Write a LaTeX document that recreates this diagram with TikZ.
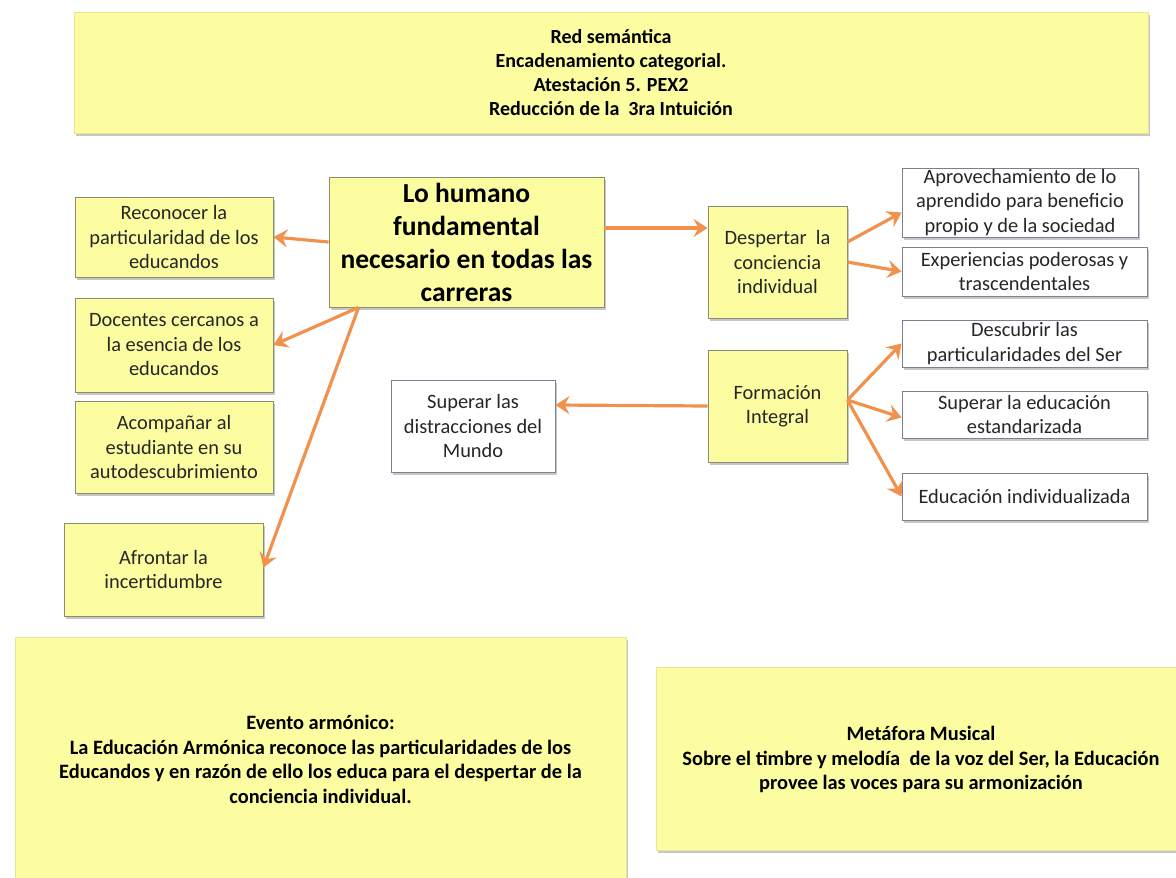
\documentclass[tikz,border=0pt]{standalone}
\usepackage{fontspec}
\setmainfont{Carlito}
\usetikzlibrary{arrows.meta,shadows}
\definecolor{boxyellow}{RGB}{252,252,160}
\definecolor{boxedge}{RGB}{140,140,115}
\definecolor{wedge}{RGB}{125,125,150}
\definecolor{arrorange}{RGB}{240,146,78}
\definecolor{txt}{RGB}{38,38,38}
\tikzset{
  shad/.style={drop shadow={shadow xshift=1pt,shadow yshift=-1.5pt,opacity=0.4,fill=black!55}},
  ybox/.style={shad,fill=boxyellow,draw=boxedge,line width=0.45pt,inner sep=0pt,align=center,text=txt,
    font=\fontsize{10.2pt}{12.25pt}\selectfont},
  wbox/.style={shad,fill=white,draw=wedge,line width=0.45pt,inner sep=0pt,align=center,text=txt,
    font=\fontsize{10.2pt}{12.25pt}\selectfont},
  bigbox/.style={shad,fill=boxyellow,draw=boxyellow!92!black,line width=0.3pt,inner sep=0pt},
  btext/.style={align=center,text=black,font=\bfseries\fontsize{10.2pt}{12.25pt}\selectfont},
  arr/.style={draw=arrorange,line width=1.6pt,-{Stealth[length=7pt,width=9pt,inset=2.5pt]}},
}
\begin{document}
\begin{tikzpicture}[x=0.5pt,y=-0.5pt]
\useasboundingbox[fill=white] (0,0) rectangle (1176,877);
% title box
\node[bigbox,minimum width=537pt,minimum height=60.5pt,align=center,
  font=\bfseries\fontsize{10pt}{12pt}\selectfont] (top) at (611,72.5)
  {Red semántica\\Encadenamiento categorial.\\Atestación 5. PEX2\\Reducción de la~ 3ra Intuición};
% central
\node[ybox,minimum width=137.5pt,minimum height=65pt,text=black,
  font=\bfseries\fontsize{13.75pt}{16.5pt}\selectfont] (cen) at (466.5,242)
  {Lo humano\\fundamental\\necesario en todas las\\carreras};
% left column
\node[ybox,minimum width=99pt,minimum height=40pt] (rec) at (174,237)
  {Reconocer la\\particularidad de los\\educandos};
\node[ybox,minimum width=99pt,minimum height=47pt] (doc) at (174,345)
  {Docentes cercanos a\\la esencia de los\\educandos};
\node[ybox,minimum width=99pt,minimum height=46pt] (aco) at (174,447)
  {Acompañar al\\estudiante en su\\autodescubrimiento};
\node[ybox,minimum width=99.5pt,minimum height=46.5pt] (afr) at (163.5,569.5)
  {Afrontar la\\incertidumbre};
\node[wbox,minimum width=82pt,minimum height=46pt] (sup) at (473,426)
  {Superar las\\distracciones del\\Mundo};
% middle right
\node[ybox,minimum width=69.5pt,minimum height=56pt] (desp) at (777.5,262)
  {Despertar~ la\\conciencia\\individual};
\node[ybox,minimum width=69.5pt,minimum height=56pt] (form) at (777.5,406)
  {Formación\\Integral};
% right column
\node[wbox,minimum width=118pt,minimum height=34.5pt] (aprov) at (1020,202.5)
  {Aprovechamiento de lo\\aprendido para beneficio\\propio y de la sociedad};
\node[wbox,minimum width=122.5pt,minimum height=24.5pt] (exp) at (1024.5,271.5)
  {Experiencias poderosas y\\trascendentales};
\node[wbox,minimum width=122.5pt,minimum height=23.5pt] (desc) at (1024.5,343.5)
  {Descubrir las\\particularidades del Ser};
\node[wbox,minimum width=122.5pt,minimum height=23.5pt] (sedu) at (1024.5,414.5)
  {Superar la educación\\estandarizada};
\node[wbox,minimum width=122.5pt,minimum height=23.5pt] (eind) at (1024.5,496.5)
  {Educación individualizada};
% bottom boxes
\node[bigbox,minimum width=305.5pt,minimum height=131.5pt] (evt) at (320.5,768.5) {};
\node[btext] (evtT) at (320.5,759.5)
  {Evento armónico:\\La Educación Armónica reconoce las particularidades de los\\Educandos y en razón de ello los educa para el despertar de la\\conciencia individual.};
\node[bigbox,minimum width=269.5pt,minimum height=91.5pt] (met) at (925.5,758.5) {};
\node[btext] (metT) at (921,759.5)
  {Metáfora Musical\\Sobre el timbre y melodía~ de la voz del Ser, la Educación\\provee las voces para su armonización};
% connectors
\draw[arr] (cen.west) -- (rec.east);
\draw[arr] ([xshift=15pt]cen.south west) -- (doc.east);
\draw[arr] ([xshift=15pt]cen.south west) -- ([yshift=1pt]afr.east);
\draw[arr] ([yshift=7pt]cen.east) -- ([yshift=17pt]desp.west);
\draw[arr] ([yshift=10pt]desp.east) -- ([yshift=-5pt]aprov.west);
\draw[arr] (desp.east) -- (exp.west);
\draw[arr] (form.west) -- ([yshift=10.5pt]sup.east);
\draw[arr] ([yshift=3pt]form.east) -- (desc.west);
\draw[arr] ([yshift=3pt]form.east) -- ([yshift=-1.5pt]sedu.west);
\draw[arr] ([yshift=3pt]form.east) -- (eind.west);
\end{tikzpicture}
\end{document}
